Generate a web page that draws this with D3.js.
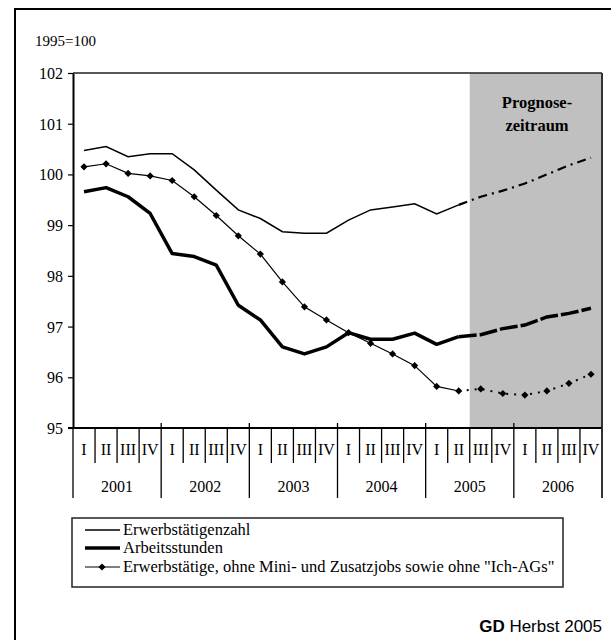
<!DOCTYPE html>
<html><head><meta charset="utf-8">
<script src="https://cdn.jsdelivr.net/npm/d3@7"></script>
<style>body{margin:0;background:#fff}svg{display:block}text{font-family:"Liberation Serif","DejaVu Serif",serif}</style>
</head><body>
<svg id="c" width="611" height="640"></svg>
<script>
const years = ["2001","2002","2003","2004","2005","2006"];
const quarters = ["I","II","III","IV"];
const erwerbstaetigenzahl = [100.47,100.55,100.35,100.41,100.41,100.09,99.69,99.30,99.13,98.87,98.84,98.84,99.10,99.30,99.36,99.42,99.22,99.40,99.56,99.68,99.82,100.00,100.18,100.33];
const arbeitsstunden = [99.66,99.74,99.56,99.23,98.44,98.38,98.21,97.42,97.13,96.60,96.46,96.60,96.88,96.75,96.75,96.87,96.65,96.80,96.84,96.96,97.03,97.19,97.26,97.36];
const ohneMiniJobs = [100.15,100.21,100.02,99.97,99.88,99.56,99.19,98.79,98.43,97.88,97.39,97.13,96.88,96.67,96.46,96.23,95.82,95.73,95.77,95.68,95.65,95.73,95.88,96.06];
const yTicks = [95,96,97,98,99,100,101,102];
const forecastStart = 18; // 2005 III
const legendLabels = ["Erwerbstätigenzahl","Arbeitsstunden","Erwerbstätige, ohne Mini- und Zusatzjobs sowie ohne \"Ich-AGs\""];

const svg = d3.select("#c");
const serif = "Liberation Serif";
const L = 73, R = 602, T = 73, B = 428;

const cats = [];
years.forEach(y => quarters.forEach(q => cats.push(y + "-" + q)));
const x = d3.scaleBand().domain(cats).range([L, R]).paddingInner(0).paddingOuter(0);
const y = d3.scaleLinear().domain([95, 102]).range([B, T]);
const cx = i => x(cats[i]) + x.bandwidth() / 2;

// outer frame
svg.append("rect").attr("x", 15).attr("y", 9).attr("width", 620).attr("height", 660)
  .attr("fill", "none").attr("stroke", "#000").attr("stroke-width", 2);

// forecast shading
svg.append("rect").attr("x", x(cats[forecastStart])).attr("y", T)
  .attr("width", R - x(cats[forecastStart])).attr("height", B - T)
  .attr("fill", "#c0c0c0");

// plot frame top & right
svg.append("line").attr("x1", L).attr("x2", R).attr("y1", T).attr("y2", T).attr("stroke", "#222").attr("stroke-width", 1.5);
svg.append("line").attr("x1", R).attr("x2", R).attr("y1", T).attr("y2", B).attr("stroke", "#333").attr("stroke-width", 2);

// y axis
const yAxis = svg.append("g").attr("transform", `translate(${L},0)`)
  .call(d3.axisLeft(y).tickValues(yTicks).tickSize(5).tickSizeOuter(0).tickFormat(d3.format("d")));
yAxis.select(".domain").attr("stroke", "#000").attr("stroke-width", 2);
yAxis.selectAll(".tick line").attr("stroke", "#000").attr("stroke-width", 1.2);
yAxis.selectAll(".tick text").attr("font-family", serif).attr("font-size", 16).attr("fill", "#000").attr("x", -10).attr("dy", "0.34em");

// x axis line
svg.append("line").attr("x1", L - 5).attr("x2", R).attr("y1", B).attr("y2", B).attr("stroke", "#000").attr("stroke-width", 2);

// quarter separators
const sepG = svg.append("g");
cats.forEach((c, i) => {
  const xx = x(c);
  const isYear = i % 4 === 0;
  sepG.append("line").attr("x1", xx).attr("x2", xx)
    .attr("y1", isYear && i > 0 ? B - 5 : B).attr("y2", isYear ? 498 : 463)
    .attr("stroke", "#000").attr("stroke-width", 1.3);
});
sepG.append("line").attr("x1", R).attr("x2", R).attr("y1", B).attr("y2", 498).attr("stroke", "#333").attr("stroke-width", 2);

// quarter labels
svg.append("g").selectAll("text").data(cats).join("text")
  .attr("x", d => x(d) + x.bandwidth() / 2).attr("y", 455)
  .attr("text-anchor", "middle").attr("font-family", serif).attr("font-size", 16)
  .text(d => d.split("-")[1]);
// year labels
svg.append("g").selectAll("text").data(years).join("text")
  .attr("x", d => (x(d + "-I") + x(d + "-IV") + x.bandwidth()) / 2).attr("y", 492)
  .attr("text-anchor", "middle").attr("font-family", serif).attr("font-size", 16)
  .text(d => d);

// y unit label
svg.append("text").attr("x", 35).attr("y", 46).attr("font-family", serif).attr("font-size", 15).text("1995=100");

// Prognose label
svg.append("text").attr("x", 537).attr("y", 108).attr("text-anchor", "middle").attr("font-family", serif)
  .attr("font-weight", "bold").attr("font-size", 16.5).text("Prognose-");
svg.append("text").attr("x", 537).attr("y", 131).attr("text-anchor", "middle").attr("font-family", serif)
  .attr("font-weight", "bold").attr("font-size", 16.5).text("zeitraum");

const line = d3.line().x(d => cx(d.i)).y(d => y(d.v));
const toPts = arr => arr.map((v, i) => ({i, v}));
const hist = arr => toPts(arr).filter(d => d.i <= forecastStart - 1);
const fut = arr => toPts(arr).filter(d => d.i >= forecastStart - 1);

// Erwerbstätigenzahl
svg.append("path").attr("d", line(hist(erwerbstaetigenzahl))).attr("fill", "none").attr("stroke", "#000").attr("stroke-width", 1.5);
svg.append("path").attr("d", line(fut(erwerbstaetigenzahl))).attr("fill", "none").attr("stroke", "#000").attr("stroke-width", 2.2)
  .attr("stroke-dasharray", "9,5,2,5");
// Arbeitsstunden
svg.append("path").attr("d", line(hist(arbeitsstunden))).attr("fill", "none").attr("stroke", "#000").attr("stroke-width", 3.5).attr("stroke-linejoin", "round");
svg.append("path").attr("d", line(fut(arbeitsstunden))).attr("fill", "none").attr("stroke", "#000").attr("stroke-width", 3.5)
  .attr("stroke-dasharray", "18,3");
// ohne Mini-Jobs
svg.append("path").attr("d", line(hist(ohneMiniJobs))).attr("fill", "none").attr("stroke", "#000").attr("stroke-width", 1.2);
svg.append("path").attr("d", line(fut(ohneMiniJobs))).attr("fill", "none").attr("stroke", "#000").attr("stroke-width", 2)
  .attr("stroke-dasharray", "2,6");
const diamond = d3.symbol().type(d3.symbolSquare).size(26);
svg.append("g").selectAll("path").data(toPts(ohneMiniJobs)).join("path")
  .attr("transform", d => `translate(${cx(d.i)},${y(d.v)}) rotate(45)`).attr("d", diamond).attr("fill", "#000");

// legend
const lg = svg.append("g");
lg.append("rect").attr("x", 72).attr("y", 518).attr("width", 491).attr("height", 69)
  .attr("fill", "#fff").attr("stroke", "#222").attr("stroke-width", 1.5);
const ly = [530, 548, 567];
const lw = [1.5, 3.5, 1.2];
legendLabels.forEach((t, k) => {
  lg.append("line").attr("x1", 85).attr("x2", 120).attr("y1", ly[k]).attr("y2", ly[k]).attr("stroke", "#000").attr("stroke-width", lw[k]);
  if (k === 2) lg.append("path").attr("transform", `translate(102,${ly[k]}) rotate(45)`).attr("d", diamond).attr("fill", "#000");
  lg.append("text").attr("x", 123).attr("y", ly[k] + 5).attr("font-family", serif).attr("font-size", 16.5).text(t);
});

// source
const src = svg.append("text").attr("x", 602).attr("y", 632).attr("text-anchor", "end")
  .style("font-family", "'Liberation Sans',Arial,sans-serif").attr("font-size", 17);
src.append("tspan").attr("font-weight", "bold").text("GD");
src.append("tspan").text(" Herbst 2005");
</script>
</body></html>
